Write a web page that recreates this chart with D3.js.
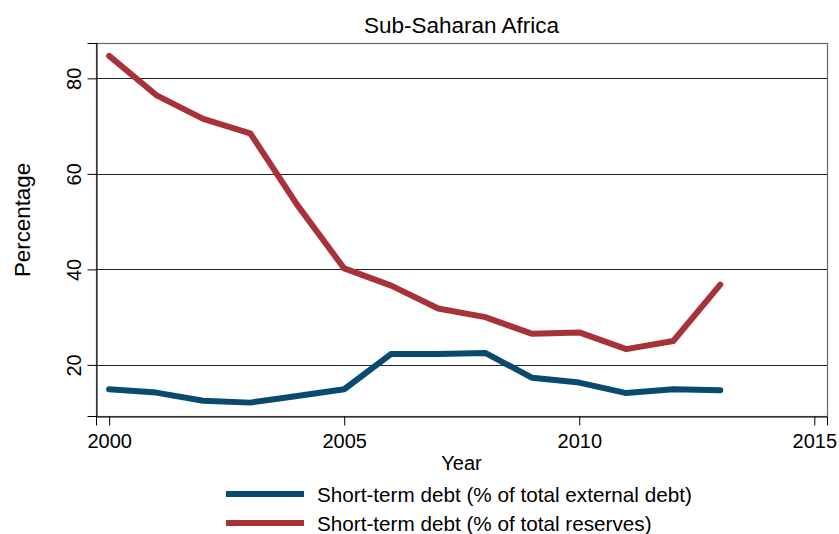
<!DOCTYPE html>
<html><head><meta charset="utf-8">
<script src="https://cdn.jsdelivr.net/npm/d3@7"></script>
<style>body{margin:0;background:#fff}svg{display:block;font-family:"Liberation Sans",Arial,sans-serif}</style>
</head><body><svg id="c" width="839" height="534"></svg>
<script>
const years = [2000,2001,2002,2003,2004,2005,2006,2007,2008,2009,2010,2011,2012,2013];
const externalDebt = [14.9,14.2,12.5,12.1,13.5,14.9,22.3,22.3,22.5,17.3,16.3,14.1,14.9,14.7];
const reserves = [84.7,76.5,71.5,68.5,53.5,40.2,36.6,31.8,30.0,26.5,26.8,23.3,25.0,36.8];
const xTicks = [2000,2005,2010,2015];
const yTicks = [20,40,60,80];
const seriesNames = ["Short-term debt (% of total external debt)","Short-term debt (% of total reserves)"];
const colors = ["#0b4a6f","#a8323a"];

const svg = d3.select("#c");
const L=96, R=827, T=43, B=416;
const x = d3.scaleLinear().domain([1999.72,2015.27]).range([L,R]);
const y = d3.scaleLinear().domain([9.3,87.4]).range([B,T]);

// grid
svg.append("g").selectAll("line").data(yTicks).join("line")
  .attr("x1",L).attr("x2",R).attr("y1",d=>Math.round(y(d))+0.5).attr("y2",d=>Math.round(y(d))+0.5)
  .attr("stroke","#222").attr("stroke-width",1);
// frame
svg.append("rect").attr("x",L+0.5).attr("y",T+0.5).attr("width",R-L).attr("height",B-T)
  .attr("fill","none").attr("stroke","#666").attr("stroke-width",1.2);

// axes
const yAxis = d3.axisLeft(y).tickValues(yTicks).tickSize(9).tickPadding(7).tickFormat(d3.format("d"));
const gy = svg.append("g").attr("transform",`translate(${L+0.5},0)`).call(yAxis);
gy.select(".domain").attr("stroke","#000");
gy.selectAll(".tick line").attr("stroke","#000");
gy.selectAll(".tick text").attr("font-size",20).attr("fill","#000")
  .attr("text-anchor","middle").attr("dy",null)
  .attr("transform","translate(-16,0) rotate(-90)").attr("x",0).attr("y",0);

const xAxis = d3.axisBottom(x).tickValues(xTicks).tickSize(9).tickPadding(8).tickFormat(d3.format("d"));
const gx = svg.append("g").attr("transform",`translate(0,${B+0.5})`).call(xAxis);
gx.select(".domain").attr("stroke","#000");
gx.selectAll(".tick line").attr("stroke","#000");
gx.selectAll(".tick text").attr("font-size",20).attr("fill","#000");

// lines
const line = d3.line().x((d,i)=>x(years[i])).y(d=>y(d));
[externalDebt,reserves].forEach((s,i)=>{
  svg.append("path").datum(s).attr("d",line).attr("fill","none")
    .attr("stroke",colors[i]).attr("stroke-width",6).attr("stroke-linejoin","round").attr("stroke-linecap","round");
});

// titles
svg.append("text").attr("x",(L+R)/2).attr("y",33).attr("text-anchor","middle").attr("font-size",22.5).text("Sub-Saharan Africa");
svg.append("text").attr("x",(L+R)/2).attr("y",470).attr("text-anchor","middle").attr("font-size",20).text("Year");
svg.append("text").attr("transform",`translate(30,220) rotate(-90)`).attr("text-anchor","middle").attr("font-size",22.3).text("Percentage");

// legend
const lg = svg.append("g");
seriesNames.forEach((n,i)=>{
  const yy = 494 + i*29;
  lg.append("line").attr("x1",226).attr("x2",304).attr("y1",yy).attr("y2",yy).attr("stroke",colors[i]).attr("stroke-width",6);
  lg.append("text").attr("x",317).attr("y",yy+8).attr("font-size",20.7).text(n);
});
</script></body></html>
